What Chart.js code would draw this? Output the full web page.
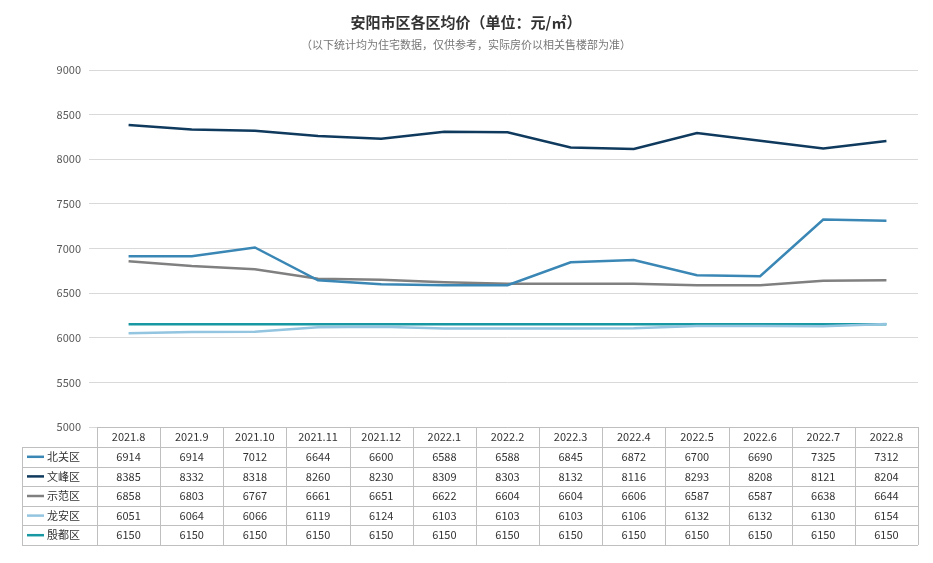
<!DOCTYPE html>
<html>
<head>
<meta charset="utf-8">
<script src="https://cdn.jsdelivr.net/npm/chart.js@4/dist/chart.umd.min.js"></script>
<style>
  body { margin: 0; background: #fff; }
</style>
</head>
<body>
<canvas id="c" width="933" height="563"></canvas>
<script>
"use strict";
// Data
const months = ["2021.8","2021.9","2021.10","2021.11","2021.12","2022.1","2022.2","2022.3","2022.4","2022.5","2022.6","2022.7","2022.8"];
const seriesNames = ["北关区","文峰区","示范区","龙安区","殷都区"];
const beiguan = [6914,6914,7012,6644,6600,6588,6588,6845,6872,6700,6690,7325,7312];
const wenfeng = [8385,8332,8318,8260,8230,8309,8303,8132,8116,8293,8208,8121,8204];
const shifan = [6858,6803,6767,6661,6651,6622,6604,6604,6606,6587,6587,6638,6644];
const longan = [6051,6064,6066,6119,6124,6103,6103,6103,6106,6132,6132,6130,6154];
const yindu = [6150,6150,6150,6150,6150,6150,6150,6150,6150,6150,6150,6150,6150];
const colors = ["#3a87b5","#0f3a5e","#808080","#93c4e0","#1798a2"];

const allData = [beiguan, wenfeng, shifan, longan, yindu];
const font = "'Noto Sans CJK SC', 'Noto Sans', sans-serif";

//Titulo e tabela
const tablePlugin = {
  id: "tabela",
  afterDraw(chart) {
    const ctx = chart.ctx;
    const x = chart.scales.x;
    const area = chart.chartArea;
    ctx.save();
    ctx.textAlign = "center";
    ctx.fillStyle = "#333";
    ctx.font = "bold 15px " + font;
    ctx.fillText("安阳市区各区均价（单位：元/㎡）", 466, 28);
    ctx.fillStyle = "#777";
    ctx.font = "11px " + font;
    ctx.fillText("（以下统计均为住宅数据，仅供参考，实际房价以相关售楼部为准）", 466, 49);

    const top = area.bottom;
    const rowH = [20, 19.6, 19.6, 19.6, 19.6, 19.6];
    const left = 22;
    const cellW = (area.right - area.left) / months.length;
    let ys = [top];
    rowH.forEach(h => ys.push(ys[ys.length - 1] + h));
    ctx.strokeStyle = "#bfbfbf";
    ctx.lineWidth = 1;
    ctx.beginPath();
    ys.forEach((y, i) => {
      ctx.moveTo(i === 0 ? area.left : left, Math.round(y) + 0.5);
      ctx.lineTo(area.right, Math.round(y) + 0.5);
    });
    ctx.moveTo(left + 0.5, ys[1]); ctx.lineTo(left + 0.5, ys[6]);
    for (let i = 0; i <= months.length; i++) {
      const xx = Math.round(area.left + i * cellW) + 0.5;
      ctx.moveTo(xx, ys[0]); ctx.lineTo(xx, ys[6]);
    }
    ctx.stroke();

    ctx.font = "11px " + font;
    ctx.fillStyle = "#333";
    ctx.textBaseline = "middle";
    months.forEach((m, i) => {
      ctx.fillText(m, x.getPixelForValue(i), (ys[0] + ys[1]) / 2);
    });
    allData.forEach((d, r) => {
      const cy = (ys[r + 1] + ys[r + 2]) / 2;
      d.forEach((v, i) => ctx.fillText(String(v), x.getPixelForValue(i), cy));
      ctx.strokeStyle = colors[r];
      ctx.lineWidth = 2.5;
      ctx.beginPath();
      ctx.moveTo(27, cy); ctx.lineTo(44, cy);
      ctx.stroke();
      ctx.textAlign = "left";
      ctx.fillText(seriesNames[r], 47, cy);
      ctx.textAlign = "center";
    });
    ctx.restore();
  }
};

new Chart(document.getElementById("c"), {
  type: "line",
  data: {
    labels: months,
    datasets: seriesNames.map((n, i) => ({
      label: n,
      data: allData[i],
      borderColor: colors[i],
      backgroundColor: colors[i],
      borderWidth: 2.5,
      pointRadius: 0,
      tension: 0
    }))
  },
  options: {
    responsive: false,
    animation: false,
    layout: { padding: { top: 70, right: 15, bottom: 128, left: 0 } },
    plugins: { legend: { display: false }, tooltip: { enabled: false } },
    scales: {
      x: {
        offset: true,
        ticks: { display: false },
        grid: { display: false },
        border: { display: false }
      },
      y: {
        min: 5000,
        max: 9000,
        ticks: { stepSize: 500, color: "#595959", font: { size: 11, family: font }, padding: 8, callback: v => String(v) },
        grid: { color: "#d9d9d9" },
        border: { display: false },
        afterFit(scale) { scale.width = 97; }
      }
    }
  },
  plugins: [tablePlugin]
});
</script>
</body>
</html>
